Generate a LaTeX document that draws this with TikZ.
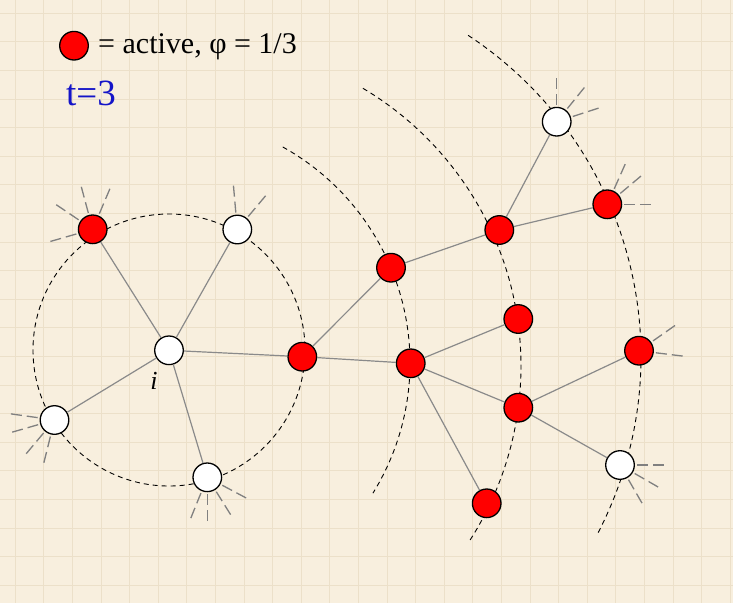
\documentclass[tikz,border=0pt]{standalone}
\usepackage{fontspec}
\setmainfont{Liberation Serif}
\usetikzlibrary{calc}
\pgfdeclarelayer{bg}
\pgfsetlayers{bg,main}
\definecolor{paper}{HTML}{F8EFDE}
\definecolor{gridc}{HTML}{ECE0C9}
\definecolor{edgec}{HTML}{8A8A8A}
\definecolor{stubc}{HTML}{808080}
\definecolor{tblue}{RGB}{20,20,200}
\newcommand\mystubs[2]{\foreach \a in {#2} {\draw[stubline] ($(#1)+(\a:17)$) -- ($(#1)+(\a:47)$);}}
\begin{document}
\begin{tikzpicture}[x=1pt,y=-1pt,
  nd/.style={circle,draw=black,line width=1.3pt,minimum size=28.6pt,inner sep=0pt},
  act/.style={nd,fill=red},
  ina/.style={nd,fill=white},
  edgeline/.style={draw=edgec,line width=1.2pt},
  arcline/.style={draw=black,line width=0.9pt,dash pattern=on 5pt off 4pt},
  stubline/.style={draw=stubc,line width=1.3pt,dash pattern=on 11pt off 5pt},
  lbl/.style={inner sep=0pt}]
\useasboundingbox (0,0) rectangle (733,603);
\begin{pgfonlayer}{bg}
  \fill[paper] (0,0) rectangle (733,603);
  \foreach \k in {0,...,25} {\draw[gridc,line width=0.6pt] ({15+28.6*\k},0) -- ({15+28.6*\k},603);}
  \foreach \k in {0,...,21} {\draw[gridc,line width=0.6pt] (0,{13+28.6*\k}) -- (733,{13+28.6*\k});}
  % dashed rings
  \draw[arcline] (169,350) circle[radius=136];
  \draw[arcline] (163,363) ++(-61:247) arc[start angle=-61,end angle=31.8,radius=247];
  \draw[arcline] (198,366) ++(-59.3:323) arc[start angle=-59.3,end angle=32.6,radius=323];
  \draw[arcline] (256.5,356.3) ++(-56.6:384.5) arc[start angle=-56.6,end angle=27.7,radius=384.5];
\end{pgfonlayer}
% legend
\node[act] (lg) at (74,45.7) {};
\node[lbl,anchor=base west,font=\fontsize{30}{33}\selectfont] (lt) at (98,53) {= active, φ = 1/3};
\node[lbl,anchor=base west,text=tblue,font=\fontsize{37}{40}\selectfont] (tt) at (66,105) {t=3};
% nodes
\node[ina] (i) at (169,350.3) {};
\node[act] (n1) at (92.7,229.3) {};
\node[ina] (n2) at (237.3,229.5) {};
\node[act] (n3) at (302.3,356.7) {};
\node[ina] (n4) at (54.5,420) {};
\node[ina] (n5) at (207.3,477.3) {};
\node[act] (m1) at (391,267.7) {};
\node[act] (m2) at (410.7,363.3) {};
\node[act] (r1) at (499.3,230) {};
\node[ina] (r2) at (556.7,121.7) {};
\node[act] (r3) at (607.3,204.3) {};
\node[act] (r4) at (518.3,319) {};
\node[act] (r5) at (518.3,407.7) {};
\node[act] (r6) at (486.7,503.3) {};
\node[act] (r7) at (639,350.7) {};
\node[ina] (r8) at (620,465) {};
\node[lbl,anchor=base,font=\fontsize{26}{28}\selectfont\itshape] (il) at (154,389) {i};
% edges
\foreach \a/\b in {i/n1,i/n2,i/n3,i/n4,i/n5,n3/m1,n3/m2,m1/r1,r1/r2,r1/r3,m2/r4,m2/r5,m2/r6,r5/r7,r5/r8}
  {\draw[edgeline] (\a) -- (\b);}
% stubs
\mystubs{n1}{-146,-105,-67,164}
\mystubs{n2}{-95,-50}
\mystubs{n4}{-172,-196,-230,-256}
\mystubs{n5}{112,90,58,28}
\mystubs{r2}{-90,-51,-18}
\mystubs{r3}{-66,-40,0}
\mystubs{r7}{-35,7}
\mystubs{r8}{0,30,60}
\end{tikzpicture}
\end{document}
